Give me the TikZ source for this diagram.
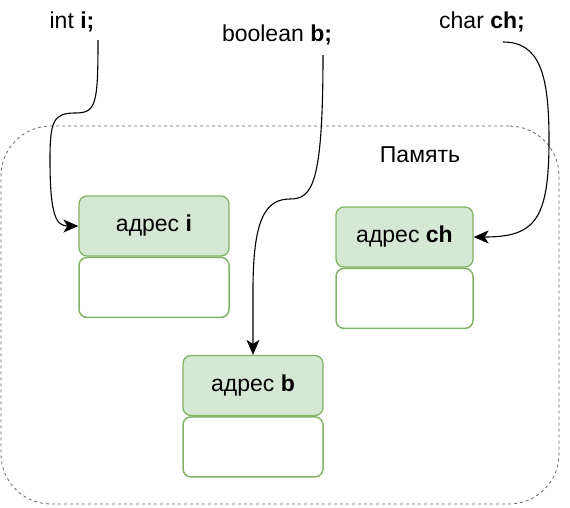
\documentclass[tikz,border=0pt]{standalone}
\usepackage{fontspec}
\setmainfont{Liberation Sans}
\usetikzlibrary{arrows.meta}

\definecolor{cellfill}{RGB}{213,232,212}
\definecolor{celldraw}{RGB}{130,179,102}
\definecolor{memdraw}{RGB}{102,102,102}

\tikzset{every picture/.style={line width=1pt}}

\begin{document}
\begin{tikzpicture}[x=1pt,y=1pt,yscale=-1,xscale=1,
    txt/.style={inner sep=0pt,font=\fontsize{23}{27}\selectfont},
    addr/.style={txt,draw=celldraw,fill=cellfill,rounded corners=8pt,line width=1.3pt,minimum height=60pt},
    cell/.style={draw=celldraw,fill=white,rounded corners=8pt,line width=1.5pt,minimum height=60pt,anchor=north},
    link/.style={line width=1.1pt,-{Stealth[length=15pt,width=13pt,inset=4pt]}}]
	\useasboundingbox (0,0) rectangle (570,507);

	%Shape: Rounded Rect [memory]
	\node (memory) [draw=memdraw,dashed,dash pattern=on 3pt off 3pt,rounded corners=50pt,line width=0.8pt,minimum width=558pt,minimum height=378pt,inner sep=0pt] at (280,315) {};
	% Text Node
	\node (memlabel) [txt] at (420,155) {Память};

	%Shape: Rounded Rect [i]
	\node (addrI) [addr,minimum width=150pt] at (154,226) {адрес \textbf{i}};
	\node (cellI) [cell,minimum width=150pt] at (addrI.south) {};
	%Shape: Rounded Rect [ch]
	\node (addrCh) [addr,minimum width=137pt] at (404.5,237) {адрес \textbf{ch}};
	\node (cellCh) [cell,minimum width=137pt] at (addrCh.south) {};
	%Shape: Rounded Rect [b]
	\node (addrB) [addr,minimum width=140pt] at (253,385.5) {адрес \textbf{b}};
	\node (cellB) [cell,minimum width=140pt] at (addrB.south) {};

	% Text Node
	\node (declI) [txt] at (72,22) {int \textbf{i;}};
	% Text Node
	\node (declB) [txt] at (277,35) {boolean \textbf{b;}};
	% Text Node
	\node (declCh) [txt] at (482,22) {char \textbf{ch;}};

	\coordinate (outI) at ([xshift=26pt,yshift=18pt]declI.center);
	\coordinate (outB) at ([xshift=46pt,yshift=20pt]declB.center);
	\coordinate (outCh) at ([xshift=21pt,yshift=20pt]declCh.center);

	%Curve Lines [int i]
	\draw [link] (outI) .. controls (98,105) and (96,113) .. (75,113) .. controls (53,113) and (50,122) .. (50,160) .. controls (50,215) and (56,226) .. (addrI.west);
	%Curve Lines [boolean b]
	\draw [link] (outB) .. controls (323,185) and (312,199) .. (290,199) .. controls (265,199) and (253,220) .. (253,290) -- (addrB.north);
	%Curve Lines [char ch]
	\draw [link] (outCh) .. controls (540,42) and (549,75) .. (549,140) .. controls (549,220) and (535,237) .. (addrCh.east);

\end{tikzpicture}
\end{document}
